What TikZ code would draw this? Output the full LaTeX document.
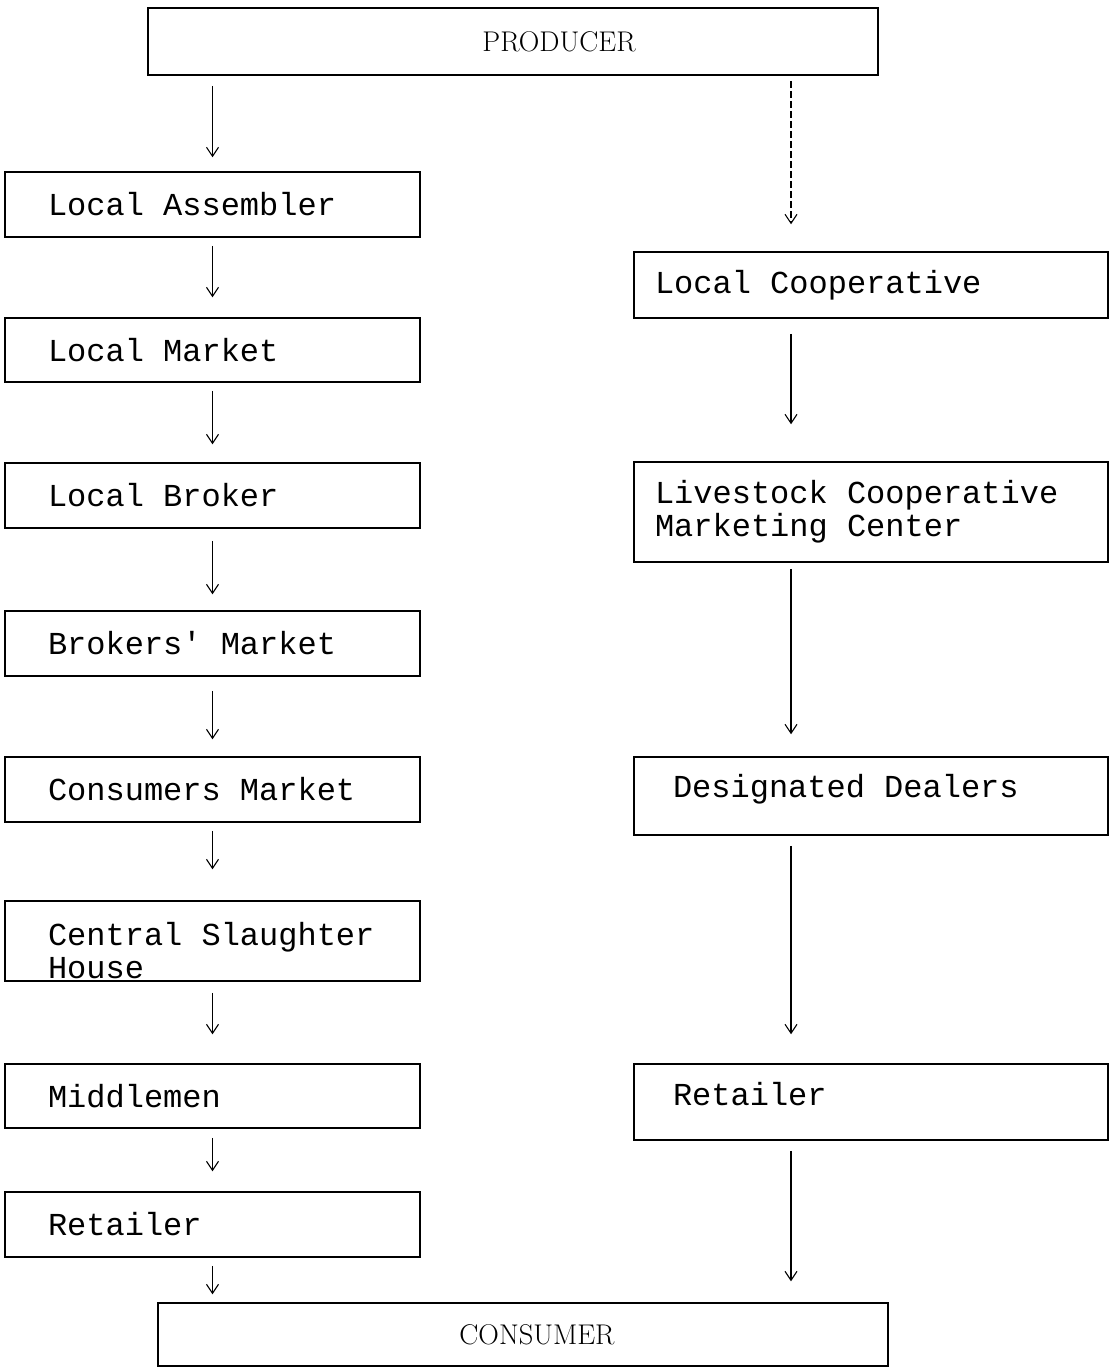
\documentclass[tikz,border=0pt]{standalone}
\usepackage{fontspec}
\setmonofont{Liberation Mono}
\usetikzlibrary{arrows.meta}
\newcommand\typefont{\fontsize{32}{33}\selectfont\ttfamily}
\newcommand\tw{\spaceskip=0.6em\relax}
\begin{document}
\begin{tikzpicture}[x=1pt,y=-1pt,
  box/.style={draw, line width=1.5pt, rectangle, inner ysep=0pt,
    font=\typefont, align=left},
  leftbox/.style={box, minimum width=415, inner xsep=43, text width=329},
  rightbox/.style={box, minimum width=474, inner xsep=21, text width=432},
  rightboxb/.style={box, minimum width=474, inner xsep=39, text width=396},
  bigbox/.style={draw, line width=1.5pt, rectangle, minimum width=730,
    font=\fontsize{28.5}{32}\selectfont\rmfamily},
  arr/.style={line width=1.1pt, -{Straight Barb[length=9pt,width=12pt,line width=1.1pt]}}
]
\useasboundingbox (0,0) rectangle (1116,1368);

\node[bigbox, minimum height=67] (prod) at (513,41.5) {\hspace*{92pt}PRODUCER};

\node[leftbox, minimum height=65] (la) at (212.5,204.5) {\tw Local Assembler};
\node[leftbox, minimum height=64] (lm) at (212.5,350) {\tw Local Market};
\node[leftbox, minimum height=65] (lb) at (212.5,495.5) {\tw Local Broker};
\node[leftbox, minimum height=65] (bm) at (212.5,643.5) {\tw Brokers' Market};
\node[leftbox, minimum height=65] (cm) at (212.5,789.5) {\tw Consumers Market};
\node[leftbox, minimum height=80] (csh) at (212.5,941) {\tw\rule{0pt}{42pt}Central Slaughter\\House};
\node[leftbox, minimum height=64] (mid) at (212.5,1096) {\tw Middlemen};
\node[leftbox, minimum height=65] (reta) at (212.5,1224.5) {\tw Retailer};

\node[rightbox, minimum height=66] (lc) at (871,285) {\tw Local Cooperative};
\node[rightbox, minimum height=100] (lcmc) at (871,512) {\tw Livestock Cooperative\\Marketing Center};
\node[rightboxb, minimum height=78] (dd) at (871,796) {\tw Designated Dealers\rule[-21pt]{0pt}{21pt}};
\node[rightboxb, minimum height=76] (retb) at (871,1102) {\tw Retailer\rule[-16pt]{0pt}{16pt}};

\node[bigbox, minimum height=63] (cons) at (523,1334.5) {\hspace*{28pt}CONSUMER};

\coordinate (rx) at (791,0);

% left column
\draw[arr, shorten <=10, shorten >=14] (prod.south -| la.north) -- (la.north);
\draw[arr, shorten <=8, shorten >=20] (la.south) -- (lm.north);
\draw[arr, shorten <=8, shorten >=18] (lm.south) -- (lb.north);
\draw[arr, shorten <=12, shorten >=16] (lb.south) -- (bm.north);
\draw[arr, shorten <=14, shorten >=17] (bm.south) -- (cm.north);
\draw[arr, shorten <=8, shorten >=31] (cm.south) -- (csh.north);
\draw[arr, shorten <=11, shorten >=29] (csh.south) -- (mid.north);
\draw[arr, shorten <=9, shorten >=20] (mid.south) -- (reta.north);
\draw[arr, shorten <=8, shorten >=8] (reta.south) -- (cons.north -| reta.south);

% right column
\draw[arr, dash pattern=on 7pt off 3pt, shorten <=5, shorten >=27] (prod.south -| rx) -- (lc.north -| rx);
\draw[arr, shorten <=15, shorten >=37] (lc.south -| rx) -- (lcmc.north -| rx);
\draw[arr, shorten <=6, shorten >=22] (lcmc.south -| rx) -- (dd.north -| rx);
\draw[arr, shorten <=10, shorten >=29] (dd.south -| rx) -- (retb.north -| rx);
\draw[arr, shorten <=10, shorten >=21] (retb.south -| rx) -- (cons.north -| rx);
\end{tikzpicture}
\end{document}
